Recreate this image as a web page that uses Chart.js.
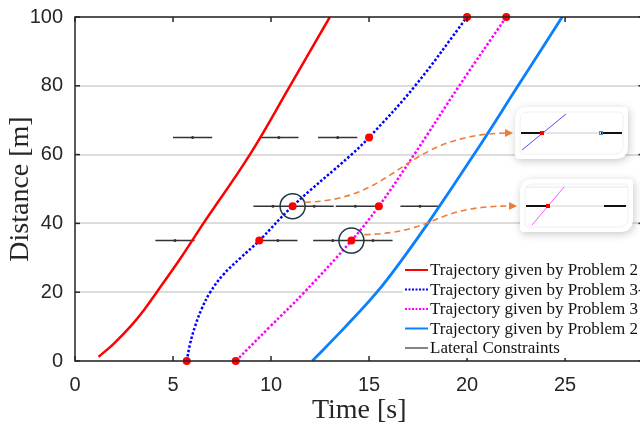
<!DOCTYPE html>
<html>
<head>
<meta charset="utf-8">
<script src="https://cdn.jsdelivr.net/npm/chart.js@4.4.1/dist/chart.umd.min.js"></script>
<style>
    html, body { margin: 0; padding: 0; width: 640px; height: 427px; overflow: hidden; background: #fff; }
    #wrap { width: 650px; height: 427px; }
</style>
</head>
<body>
<div id="wrap"><canvas id="grafico" width="650" height="427"></canvas></div>
<script>
// Trajetórias (tempo [s], distância [m])
const redTime = [1.2, 1.97, 2.82, 3.54, 4.17, 5.4, 6.55, 8.92, 10.97, 13.0];
const redDist = [1.2, 5, 10, 15, 20, 30, 40, 60, 80, 100];

const blueTime = [5.7, 5.87, 6.12, 6.45, 6.9, 7.55, 8.45, 9.4, 11.1, 14.1, 15.0, 17.35, 20.0];
const blueDist = [0, 5, 10, 15, 20, 25, 30, 35, 45, 60, 65, 80, 100];
const blueMarked = [0, 7, 8, 10, 12];

const magentaTime = [8.2, 9.95, 11.7, 14.1, 15.5, 17.3, 19.6, 22.0];
const magentaDist = [0, 10, 20, 35, 45, 60, 80, 100];
const magentaMarked = [0, 3, 4, 7];

const skyTime = [12.1, 13.8, 15.4, 16.75, 18.0, 20.35, 22.6, 24.85];
const skyDist = [0, 10, 20, 30, 40, 60, 80, 100];

// Restrições laterais: distância de cada linha e centros dos intervalos
const constraintDist = [65, 45, 35];
const constraintCenters = [
    [6.0, 10.4, 13.4],
    [10.1, 12.2, 14.3, 17.6],
    [5.1, 10.35, 13.15, 15.2]
];
const constraintHalf = 1.0;

// Pontos destacados com círculo
const focusTime = [11.1, 14.1];
const focusDist = [45, 35];

const xTicks = [0, 5, 10, 15, 20, 25];
const yTicks = [0, 20, 40, 60, 80, 100];

const legendLabels = [
    'Trajectory given by Problem 2',
    'Trajectory given by Problem 3-4',
    'Trajectory given by Problem 3',
    'Trajectory given by Problem 2',
    'Lateral Constraints'
];

function pts(ts, ds) {
    return ts.map((t, i) => ({ x: t, y: ds[i] }));
}

function markRadius(marked) {
    return ctx => marked.includes(ctx.dataIndex) ? 4 : 0;
}

const constraintPts = [];
constraintDist.forEach((d, r) => {
    constraintCenters[r].forEach(c => {
        constraintPts.push({ x: c - constraintHalf, y: d });
        constraintPts.push({ x: c, y: d, mid: true });
        constraintPts.push({ x: c + constraintHalf, y: d });
        constraintPts.push({ x: c + constraintHalf + 0.01, y: null });
    });
});

const AXIS = '#262626';
const SERIF = '"Liberation Serif", "Times New Roman", serif';
const SANS = '"Liberation Sans", Arial, sans-serif';

function arrowTo(c, x0, y0, c1x, c1y, c2x, c2y, x1, y1) {
    c.save();
    c.strokeStyle = '#ee7d3a';
    c.lineWidth = 1.6;
    c.setLineDash([6, 4]);
    c.beginPath();
    c.moveTo(x0, y0);
    c.bezierCurveTo(c1x, c1y, c2x, c2y, x1 - 6, y1);
    c.stroke();
    c.setLineDash([]);
    c.fillStyle = '#ee7d3a';
    c.beginPath();
    c.moveTo(x1, y1);
    c.lineTo(x1 - 8, y1 - 4);
    c.lineTo(x1 - 8, y1 + 4);
    c.closePath();
    c.fill();
    c.restore();
}

function leafPath(c, x, y, w, h, rBig, rSmall) {
    c.beginPath();
    c.moveTo(x + rBig, y);
    c.lineTo(x + w - rSmall, y);
    c.quadraticCurveTo(x + w, y, x + w, y + rSmall);
    c.lineTo(x + w, y + h - rBig);
    c.quadraticCurveTo(x + w, y + h, x + w - rBig, y + h);
    c.lineTo(x + rSmall, y + h);
    c.quadraticCurveTo(x, y + h, x, y + h - rSmall);
    c.lineTo(x, y + rBig);
    c.quadraticCurveTo(x, y, x + rBig, y);
    c.closePath();
}

function drawInset(c, x, y, w, h) {
    c.save();
    c.shadowColor = 'rgba(0,0,0,0.22)';
    c.shadowBlur = 9;
    c.shadowOffsetX = 1;
    c.shadowOffsetY = 2;
    c.fillStyle = '#fff';
    leafPath(c, x, y, w, h, 13, 4);
    c.fill();
    c.restore();
    c.save();
    c.strokeStyle = '#f0f0f0';
    c.lineWidth = 1;
    leafPath(c, x + 5, y + 5, w - 10, h - 10, 9, 3);
    c.stroke();
    c.restore();
}

function seg(c, x0, y0, x1, y1, color, w) {
    c.strokeStyle = color;
    c.lineWidth = w;
    c.beginPath();
    c.moveTo(x0, y0);
    c.lineTo(x1, y1);
    c.stroke();
}

const extras = {
    id: 'extras',
    afterDatasetsDraw(chart) {
        const c = chart.ctx;
        const { left, right, top, bottom } = chart.chartArea;
        const xs = chart.scales.x, ys = chart.scales.y;

        // caixa dos eixos e ticks para dentro
        c.save();
        c.strokeStyle = AXIS;
        c.lineWidth = 1.5;
        c.strokeRect(left, top, right - left, bottom - top);
        xTicks.forEach(v => {
            const px = xs.getPixelForValue(v);
            seg(c, px, bottom, px, bottom - 5, AXIS, 1.5);
            seg(c, px, top, px, top + 5, AXIS, 1.5);
        });
        yTicks.forEach(v => {
            const py = ys.getPixelForValue(v);
            seg(c, left, py, left + 5, py, AXIS, 1.5);
            seg(c, right, py, right - 5, py, AXIS, 1.5);
        });
        c.restore();

        // círculos nos pontos destacados
        const fx = focusTime.map(t => xs.getPixelForValue(t));
        const fy = focusDist.map(d => ys.getPixelForValue(d));
        c.save();
        c.strokeStyle = '#1d3a48';
        c.lineWidth = 1.5;
        fx.forEach((x, i) => {
            c.beginPath();
            c.arc(x, fy[i], 12.5, 0, Math.PI * 2);
            c.stroke();
        });
        c.restore();

        // setas tracejadas até os detalhes ampliados
        arrowTo(c, fx[0] + 12, fy[0] - 4, 400, fy[0] - 6, 400, 135, 513, 133);
        arrowTo(c, fx[1] + 13, fy[1] - 6, 440, fy[1] - 8, 430, 206, 517, 206);

        // detalhe 1
        c.save();
        drawInset(c, 515, 107, 113, 52);
        seg(c, 521, 133, 622, 133, '#dddddd', 1.5);
        seg(c, 521, 133, 542, 133, '#111', 2);
        seg(c, 601, 133, 622, 133, '#111', 2);
        seg(c, 522, 150, 566, 114, '#5050ff', 1);
        c.fillStyle = '#ff0000';
        c.fillRect(540, 131, 4, 4);
        c.strokeStyle = '#4a90c8';
        c.lineWidth = 1;
        c.strokeRect(599.5, 131.5, 3, 3);
        c.restore();

        // detalhe 2
        c.save();
        drawInset(c, 520, 179, 113, 53);
        seg(c, 526, 187, 627, 187, '#e6e6e6', 1);
        seg(c, 526, 206, 627, 206, '#e0e0e0', 1.5);
        seg(c, 526, 206, 548, 206, '#111', 2);
        seg(c, 604, 206, 626, 206, '#111', 2);
        seg(c, 532, 225, 564, 187, '#ff55ff', 1);
        c.fillStyle = '#ff0000';
        c.fillRect(546, 204, 4, 4);
        c.restore();

        // legenda
        c.save();
        c.fillStyle = '#fff';
        c.fillRect(403, 261, 260, 97);
        const rowY = [270, 289.5, 309, 328.5, 348];
        const ds = chart.data.datasets;
        c.font = '17px ' + SERIF;
        c.textBaseline = 'middle';
        c.textAlign = 'left';
        legendLabels.forEach((lab, i) => {
            const d = ds[i];
            c.strokeStyle = d.borderColor;
            c.lineWidth = i === 4 ? 1.2 : 2;
            c.setLineDash(d.borderDash && d.borderDash.length ? [2, 1.5] : []);
            c.beginPath();
            c.moveTo(405, rowY[i]);
            c.lineTo(428, rowY[i]);
            c.stroke();
            c.setLineDash([]);
            c.fillStyle = '#111';
            c.fillText(lab, 430, rowY[i] + 1);
        });
        c.restore();
    }
};

new Chart(document.getElementById('grafico'), {
    type: 'line',
    data: {
        datasets: [
            {
                label: legendLabels[0],
                data: pts(redTime, redDist),
                borderColor: '#ff0000',
                borderWidth: 2.5,
                pointRadius: 0,
                tension: 0.4,
                order: 2
            },
            {
                label: legendLabels[1],
                data: pts(blueTime, blueDist),
                borderColor: '#0000ff',
                borderWidth: 2.5,
                borderDash: [2.5, 2],
                pointRadius: markRadius(blueMarked),
                pointBackgroundColor: '#ff0000',
                pointBorderColor: '#ff0000',
                pointBorderWidth: 0,
                tension: 0.4,
                clip: false,
                order: 1
            },
            {
                label: legendLabels[2],
                data: pts(magentaTime, magentaDist),
                borderColor: '#ff00ff',
                borderWidth: 2.5,
                borderDash: [2.5, 2],
                pointRadius: markRadius(magentaMarked),
                pointBackgroundColor: '#ff0000',
                pointBorderColor: '#ff0000',
                pointBorderWidth: 0,
                tension: 0.4,
                clip: false,
                order: 1
            },
            {
                label: legendLabels[3],
                data: pts(skyTime, skyDist),
                borderColor: '#0a80ff',
                borderWidth: 2.8,
                pointRadius: 0,
                tension: 0.4,
                order: 2
            },
            {
                label: legendLabels[4],
                data: constraintPts,
                borderColor: '#333333',
                borderWidth: 1.5,
                pointRadius: ctx => (ctx.raw && ctx.raw.mid ? 1.5 : 0),
                pointBackgroundColor: '#333333',
                pointBorderWidth: 0,
                tension: 0,
                spanGaps: false,
                order: 3
            }
        ]
    },
    options: {
        responsive: false,
        animation: false,
        devicePixelRatio: 1,
        layout: { padding: { top: 17, right: 6.5, bottom: 0, left: 0 } },
        plugins: { legend: { display: false }, tooltip: { enabled: false } },
        scales: {
            x: {
                type: 'linear',
                min: 0,
                max: 29,
                afterFit: s => { s.height = 66; s.paddingLeft = 0; s.paddingRight = 0; },
                afterBuildTicks: s => { s.ticks = xTicks.map(v => ({ value: v })); },
                grid: { display: false },
                border: { display: false },
                ticks: { color: AXIS, font: { family: SANS, size: 20 }, padding: 4, maxRotation: 0 },
                title: { display: true, text: 'Time [s]', color: AXIS, font: { family: SERIF, size: 28 }, padding: { top: 0, bottom: 0 } }
            },
            y: {
                type: 'linear',
                min: 0,
                max: 100,
                afterFit: s => { s.width = 75; s.paddingTop = 0; s.paddingBottom = 0; },
                afterBuildTicks: s => { s.ticks = yTicks.map(v => ({ value: v })); },
                grid: { color: '#dcdcdc', lineWidth: 2, drawTicks: false },
                border: { display: false },
                ticks: { color: AXIS, font: { family: SANS, size: 20 }, padding: 12 },
                title: { display: true, text: 'Distance [m]', color: AXIS, font: { family: SERIF, size: 28 }, padding: { top: 4, bottom: 0 } }
            }
        }
    },
    plugins: [extras]
});
</script>
</body>
</html>
